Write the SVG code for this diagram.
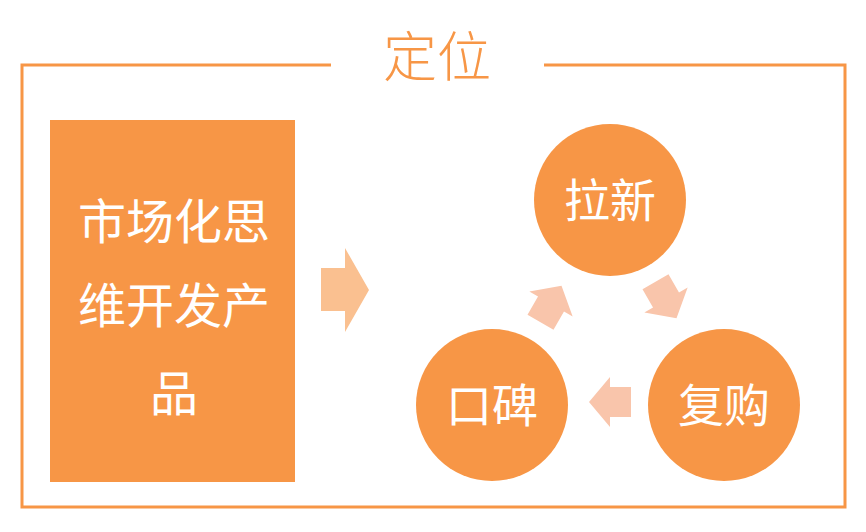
<svg xmlns="http://www.w3.org/2000/svg" width="866" height="532" viewBox="0 0 866 532">
<defs>
<style>
.t{font-family:"Noto Sans CJK SC","Noto Sans",sans-serif;fill:#ffffff;text-anchor:middle}
.node{fill:#F79646}
.arr{fill:#F9C5AB}
</style>
<polygon id="sa" points="-21,-15 0,-15 0,-25 21,0 0,25 0,15 -21,15"/>
</defs>
<rect width="866" height="532" fill="#ffffff"/>
<g id="frame" fill="none" stroke="#F79646" stroke-width="3">
<polyline points="331,65 22,65 22,507 845,507 845,65 544,65"/>
</g>
<text id="title" x="437" y="77" class="t" style="fill:#F79646;font-size:54px;font-weight:300">定位</text>
<g id="box">
<rect x="50" y="120" width="245" height="362" class="node"/>
<text x="174" y="239" class="t" style="font-size:48px">市场化思</text>
<text x="174" y="323" class="t" style="font-size:48px">维开发产</text>
<text x="174" y="411" class="t" style="font-size:48px">品</text>
</g>
<g id="node-laxin">
<circle cx="610" cy="200" r="76" class="node"/>
<text x="610" y="217" class="t" style="font-size:46px">拉新</text>
</g>
<g id="node-fugou">
<circle cx="724" cy="405" r="76" class="node"/>
<text x="724" y="422" class="t" style="font-size:46px">复购</text>
</g>
<g id="node-koubei">
<circle cx="492" cy="405" r="76" class="node"/>
<text x="492" y="422" class="t" style="font-size:46px">口碑</text>
</g>
<g id="connectors">
<polygon points="321,268 345,268 345,248 369,290 345,332 345,311 321,311" fill="#FAC090"/>
<use href="#sa" class="arr" transform="translate(666,300) rotate(60)"/>
<use href="#sa" class="arr" transform="translate(610,402) rotate(180)"/>
<use href="#sa" class="arr" transform="translate(551,304) rotate(-60)"/>
</g>
</svg>
